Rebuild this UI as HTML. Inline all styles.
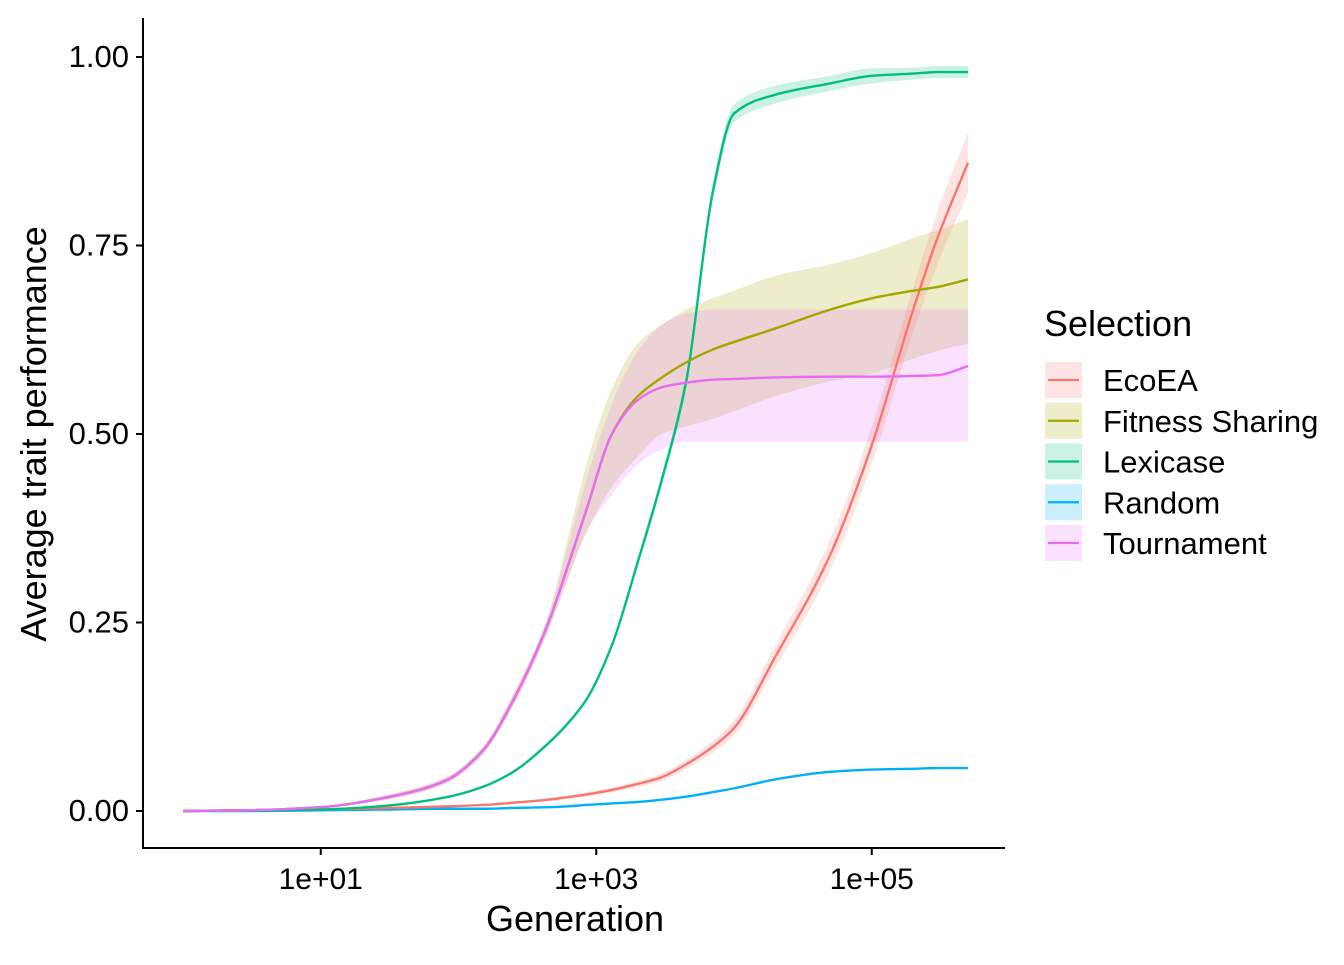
<!DOCTYPE html>
<html><head><meta charset="utf-8"><style>
body{margin:0;background:#fff;}
svg{font-family:"Liberation Sans",Arial,sans-serif;}
</style></head><body>
<svg id="chart" width="1344" height="960">
<g id="bands"></g>
<g id="lines"></g>
<line x1="143" y1="18" x2="143" y2="849" stroke="#000" stroke-width="2"/>
<line x1="142" y1="848" x2="1005" y2="848" stroke="#000" stroke-width="2"/>
<g id="ticks"></g>
<text x="575" y="931" font-size="36" text-anchor="middle">Generation</text>
<text transform="translate(46,434) rotate(-90)" font-size="36" text-anchor="middle">Average trait performance</text>
<g id="legend">
<text x="1044" y="336" font-size="36">Selection</text>
</g>
</svg>
<script>
const gens=[1,3,10,30,80,150,250,450,600,850,1300,2000,3000,4500,7000,10000,20000,50000,100000,200000,300000,500000];
const ecoea=[0,0.001,0.002,0.004,0.006,0.008,0.011,0.015,0.018,0.022,0.028,0.036,0.045,0.062,0.085,0.11,0.205,0.34,0.485,0.665,0.76,0.86];
const fitness=[0,0.001,0.005,0.018,0.04,0.08,0.147,0.25,0.316,0.40,0.50,0.55,0.575,0.595,0.612,0.622,0.64,0.665,0.68,0.69,0.695,0.705];
const lexicase=[0,0.001,0.002,0.007,0.018,0.032,0.052,0.09,0.113,0.148,0.22,0.33,0.44,0.57,0.82,0.925,0.95,0.965,0.975,0.978,0.98,0.98];
const random=[0,0,0.001,0.002,0.003,0.003,0.004,0.005,0.006,0.008,0.01,0.012,0.015,0.019,0.025,0.03,0.042,0.052,0.055,0.056,0.057,0.057];
const tournament=[0,0.001,0.005,0.018,0.04,0.08,0.147,0.25,0.316,0.40,0.50,0.545,0.562,0.568,0.572,0.573,0.575,0.576,0.576,0.577,0.578,0.59];
const fitLo=[0,0.001,0.004,0.015,0.036,0.075,0.14,0.24,0.30,0.37,0.43,0.47,0.50,0.51,0.52,0.53,0.55,0.57,0.58,0.60,0.61,0.62];
const fitHi=[0,0.001,0.006,0.021,0.044,0.085,0.155,0.26,0.35,0.46,0.56,0.62,0.645,0.665,0.68,0.69,0.71,0.725,0.74,0.76,0.77,0.785];
const tourLo=[0,0.001,0.004,0.015,0.036,0.075,0.14,0.24,0.30,0.37,0.42,0.46,0.48,0.49,0.49,0.49,0.49,0.49,0.49,0.49,0.49,0.49];
const tourHi=[0,0.001,0.006,0.021,0.044,0.085,0.155,0.26,0.34,0.44,0.54,0.61,0.645,0.66,0.665,0.665,0.665,0.665,0.665,0.665,0.665,0.665];
const ecoBand=[0,0,0,0,0,0.001,0.001,0.002,0.002,0.003,0.003,0.004,0.005,0.006,0.008,0.01,0.015,0.02,0.025,0.03,0.035,0.04];
const lexBand=[0,0,0,0,0,0,0.001,0.002,0.003,0.003,0.004,0.006,0.008,0.01,0.012,0.012,0.012,0.01,0.01,0.008,0.008,0.008];
const yTicks=[0,0.25,0.5,0.75,1];
const yTickLabels=["0.00","0.25","0.50","0.75","1.00"];
const xTicks=[10,1000,100000];
const xTickLabels=["1e+01","1e+03","1e+05"];
const seriesNames=["EcoEA","Fitness Sharing","Lexicase","Random","Tournament"];
const colors=["#F8766D","#A3A500","#00BF7D","#00B0F6","#E76BF3"];
const NS="http://www.w3.org/2000/svg";
const xs=g=>183+137.75*Math.log10(g);
const ys=v=>811-754*v;
function mk(t,a,p){const e=document.createElementNS(NS,t);for(const k in a)e.setAttribute(k,a[k]);p.appendChild(e);return e;}
function pts(vals){return gens.map((g,i)=>[xs(g),ys(vals[i])]);}
function mono(q,first){const n=q.length,d=[],m=[];
for(let i=0;i<n-1;i++)d.push((q[i+1][1]-q[i][1])/(q[i+1][0]-q[i][0]));
for(let i=0;i<n;i++){if(i==0)m.push(d[0]);else if(i==n-1)m.push(d[n-2]);else if(d[i-1]*d[i]<=0)m.push(0);else{
const h0=q[i][0]-q[i-1][0],h1=q[i+1][0]-q[i][0];m.push(3*(h0+h1)/((2*h1+h0)/d[i-1]+(h1+2*h0)/d[i]));}}
let s=first+q[0][0]+","+q[0][1];
for(let i=0;i<n-1;i++){const h=(q[i+1][0]-q[i][0])/3;
s+=" C"+(q[i][0]+h)+","+(q[i][1]+m[i]*h)+" "+(q[i+1][0]-h)+","+(q[i+1][1]-m[i+1]*h)+" "+q[i+1][0]+","+q[i+1][1];}
return s;}
function band(lo,hi,col,name){
const d=mono(pts(hi),"M")+" "+mono(pts(lo).reverse(),"L")+" Z";
const e=mk("path",{d:d,fill:col,"fill-opacity":0.2},document.getElementById("bands"));

}
band(fitLo,fitHi,colors[1],"fitness-sharing-ribbon");
band(tourLo,tourHi,colors[4],"tournament-ribbon");
band(ecoea.map((v,i)=>v-ecoBand[i]),ecoea.map((v,i)=>v+ecoBand[i]),colors[0],"ecoea-ribbon");
band(lexicase.map((v,i)=>v-lexBand[i]),lexicase.map((v,i)=>v+lexBand[i]),colors[2],"lexicase-ribbon");
const data=[ecoea,fitness,lexicase,random,tournament];
const lines=document.getElementById("lines");
[3,0,2,1,4].forEach(k=>{const e=mk("path",{d:mono(pts(data[k]),"M"),fill:"none",stroke:colors[k],"stroke-width":2.4},lines);

});
const tk=document.getElementById("ticks");
yTicks.forEach((v,i)=>{mk("line",{x1:136,x2:143,y1:ys(v),y2:ys(v),stroke:"#000","stroke-width":2},tk);
const t=mk("text",{x:129,y:ys(v)+10,"font-size":31,"text-anchor":"end"},tk);t.textContent=yTickLabels[i];

});
xTicks.forEach((g,i)=>{mk("line",{x1:xs(g),x2:xs(g),y1:848,y2:855,stroke:"#000","stroke-width":2},tk);
const t=mk("text",{x:xs(g),y:889,"font-size":30,"text-anchor":"middle"},tk);t.textContent=xTickLabels[i];

});
const lg=document.getElementById("legend");
seriesNames.forEach((n,i)=>{const cy=380+i*40.75;
const g=mk("g",{},lg);


mk("rect",{x:1045,y:cy-18,width:37,height:36,fill:colors[i],"fill-opacity":0.2},g);
mk("line",{x1:1048,x2:1079,y1:cy,y2:cy,stroke:colors[i],"stroke-width":2.2},g);
const t=mk("text",{x:1103,y:cy+11,"font-size":31},g);t.textContent=n;});
</script>
</body></html>
